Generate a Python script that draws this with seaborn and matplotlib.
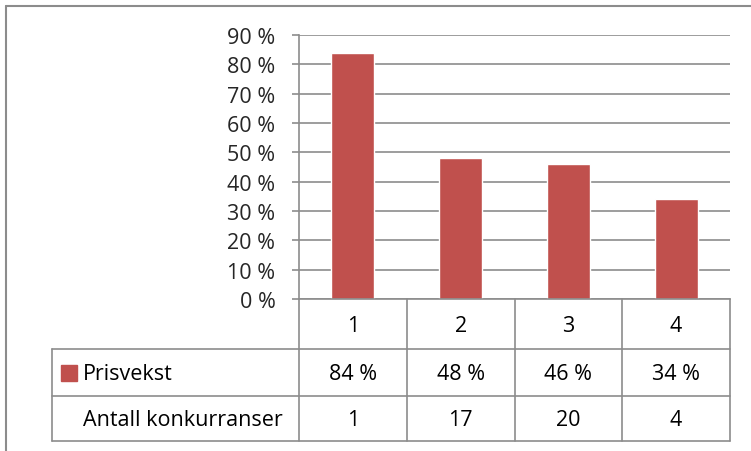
import numpy as np
import matplotlib
matplotlib.use("Agg")
import matplotlib.pyplot as plt
import seaborn as sns

# data
categories = ["1", "2", "3", "4"]
prisvekst = [0.84, 0.48, 0.46, 0.34]
antall = [1, 17, 20, 4]
yticks = [0.0, 0.1, 0.2, 0.3, 0.4, 0.5, 0.6, 0.7, 0.8, 0.9]
series_name = "Prisvekst"
row2_name = "Antall konkurranser"

sns.set_theme(style="white")
plt.rcParams["font.family"] = ["Open Sans", "DejaVu Sans"]

W, H = 751, 452
bar_color = "#C0504D"
line_color = "#8C8C8C"
fs = 15.5

def pct(v):
    return f"{round(v * 100):d} %"

fig = plt.figure(figsize=(W / 100, H / 100), dpi=100)
fig.patch.set_facecolor("white")

# outer chart frame (only top and left are inside the image)
fig.add_artist(plt.Line2D([6 / W, 1.0], [1 - 7 / H, 1 - 7 / H], color=line_color, lw=1.5))
fig.add_artist(plt.Line2D([6 / W, 6 / W], [0.0, 1 - 7 / H], color=line_color, lw=1.5))

# plot area in pixels
x0, x1, ytop, ybot = 299, 730, 36, 300
ax = fig.add_axes([x0 / W, 1 - ybot / H, (x1 - x0) / W, (ybot - ytop) / H])
sns.barplot(x=categories, y=prisvekst, color=bar_color, saturation=1,
            width=0.4, ax=ax, order=categories)
ax.set_xlim(-0.5, 3.5)
ax.set_ylim(0, 0.9)
ax.set_yticks(yticks)
ax.set_yticklabels([pct(v) for v in yticks], fontsize=fs)
ax.set_xticks([])
ax.set_xlabel("")
ax.set_ylabel("")
ax.yaxis.grid(True, color=line_color, lw=1.2)
ax.set_axisbelow(True)
ax.tick_params(axis="y", length=5, width=1.2, color=line_color, pad=12, direction="out", left=True)
for s in ["top", "right"]:
    ax.spines[s].set_visible(False)
for s in ["left", "bottom"]:
    ax.spines[s].set_color(line_color)
    ax.spines[s].set_linewidth(1.2)

# data table below the plot, aligned with category slots
tl = 52
unit = (x1 - x0) / 4
tab_left = -0.5 - (x0 - tl) / unit
rows = [300, 350, 397, 442]
tax = fig.add_axes([tl / W, 1 - rows[-1] / H, (x1 - tl) / W, (rows[-1] - rows[0]) / H])
tax.set_xlim(tab_left, 3.5)
tax.set_ylim(rows[-1], rows[0])
tax.axis("off")

kw = dict(color=line_color, lw=1.2, clip_on=False)
for b in np.arange(len(categories) + 1) - 0.5:
    tax.plot([b, b], [rows[0], rows[-1]], **kw)
for r in rows[1:]:
    tax.plot([tab_left, 3.5], [r, r], **kw)
tax.plot([tab_left, tab_left], [rows[1], rows[-1]], **kw)

mids = [(rows[i] + rows[i + 1]) / 2 + 1.5 for i in range(3)]
for i, c in enumerate(categories):
    tax.text(i, mids[0], c, ha="center", va="center", fontsize=fs, color="black")
    tax.text(i, mids[1], pct(prisvekst[i]), ha="center", va="center", fontsize=fs, color="black")
    tax.text(i, mids[2], str(antall[i]), ha="center", va="center", fontsize=fs, color="black")

label_x = tab_left + (83 - tl) / unit
sq = 16 / unit
tax.add_patch(plt.Rectangle((tab_left + (61 - tl) / unit, mids[1] - 1.5 - 8), sq, 16,
                            color=bar_color, clip_on=False))
tax.text(label_x, mids[1], series_name, ha="left", va="center", fontsize=fs, color="black")
tax.text(label_x, mids[2], row2_name, ha="left", va="center", fontsize=fs, color="black")

fig.savefig("out.png", dpi=100)
